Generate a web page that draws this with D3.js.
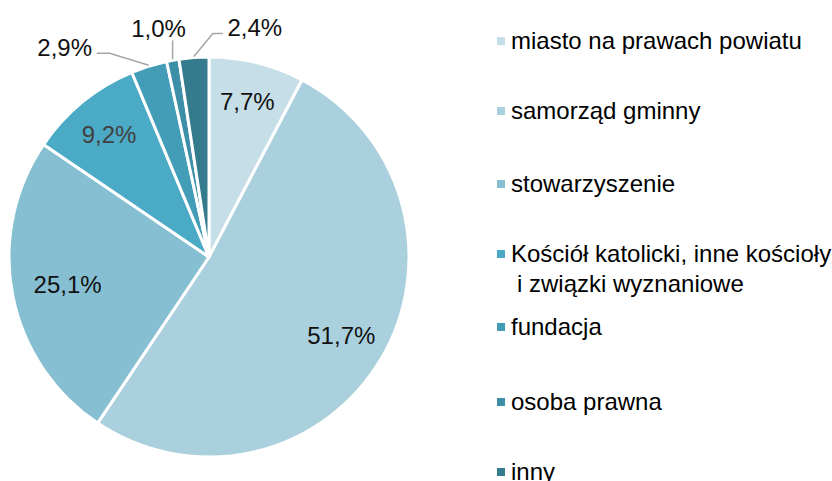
<!DOCTYPE html>
<html><head><meta charset="utf-8">
<script src="https://cdn.jsdelivr.net/npm/d3@7"></script>
<style>html,body{margin:0;padding:0;background:#fff;}svg{display:block;font-family:"Liberation Sans",Arial,sans-serif;}</style>
</head><body>
<svg id="chart" width="832" height="481"></svg>
<script>
// ---- data ----
const categories = ["miasto na prawach powiatu","samorząd gminny","stowarzyszenie","Kościół katolicki, inne kościoły|i związki wyznaniowe","fundacja","osoba prawna","inny"];
const values = [7.7, 51.7, 25.1, 9.2, 2.9, 1.0, 2.4];
const valueLabels = ["7,7%","51,7%","25,1%","9,2%","2,9%","1,0%","2,4%"];
const colors = ["#c6dee7","#abd0dd","#85bfd1","#4babc6","#449db6","#3d8fa8","#357b8e"];

// ---- layout ----
const cx = 209, cy = 257, R = 200;
const labelInside = [true,true,true,true,false,false,false];
const labelRadiusFactor = [0.8,0.77,0.72,0.79];
const labelColor = ["#111","#111","#111","#404040","#111","#111","#111"];
// elbow offset (from arc point), tail length and text offset (from elbow) for outside labels
const outsideLeader = {
  4:{elbow:[-39,-12], tail:-13, text:[-45,-6]},
  5:{elbow:[0,-19],   tail:0,   text:[-14,-12]},
  6:{elbow:[19,-23],  tail:10,  text:[42,-6]}
};
const legendRowY = [41,111,184,254,327,402,472];

const svg = d3.select("#chart");
const g = svg.append("g").attr("transform",`translate(${cx},${cy})`);
const pie = d3.pie().sort(null).value(d=>d);
const arcs = pie(values);
const arc = d3.arc().innerRadius(0).outerRadius(R);
const edgeArc = d3.arc().innerRadius(R+1).outerRadius(R+1);

g.selectAll("path.slice").data(arcs).join("path")
  .attr("class","slice").attr("d",arc)
  .attr("fill",(d,i)=>colors[i]).attr("stroke","#fff").attr("stroke-width",3).attr("stroke-linejoin","round");

arcs.forEach((d,i)=>{
  if(labelInside[i]){
    const lr = R*labelRadiusFactor[i];
    const [x,y] = d3.arc().innerRadius(lr).outerRadius(lr).centroid(d);
    g.append("text").attr("x",x).attr("y",y).attr("dy","0.35em").attr("text-anchor","middle")
      .attr("font-size",24).attr("fill",labelColor[i]).text(valueLabels[i]);
  } else {
    const [ex,ey] = edgeArc.centroid(d);
    const o = outsideLeader[i];
    const bx = ex+o.elbow[0], by = ey+o.elbow[1];
    const pts = [[ex,ey],[bx,by]];
    if(o.tail) pts.push([bx+o.tail,by]);
    g.append("path").attr("d",d3.line()(pts)).attr("fill","none").attr("stroke","#a6a6a6").attr("stroke-width",1.5);
    g.append("text").attr("x",bx+o.text[0]).attr("y",by+o.text[1]).attr("dy","0.35em")
      .attr("text-anchor","middle").attr("font-size",24).attr("fill",labelColor[i]).text(valueLabels[i]);
  }
});

// legend
const leg = svg.append("g");
categories.forEach((c,i)=>{
  const y = legendRowY[i];
  leg.append("rect").attr("x",497).attr("y",y-4).attr("width",8).attr("height",8).attr("fill",colors[i]);
  const lines = c.split("|");
  const t = leg.append("text").attr("x",511).attr("y",y+8).attr("font-size",24).attr("fill","#000");
  lines.forEach((ln,k)=>{
    t.append("tspan").attr("x",511 + (k>0?6:0)).attr("dy",k===0?0:30).text(ln);
  });
});
</script>
</body></html>
